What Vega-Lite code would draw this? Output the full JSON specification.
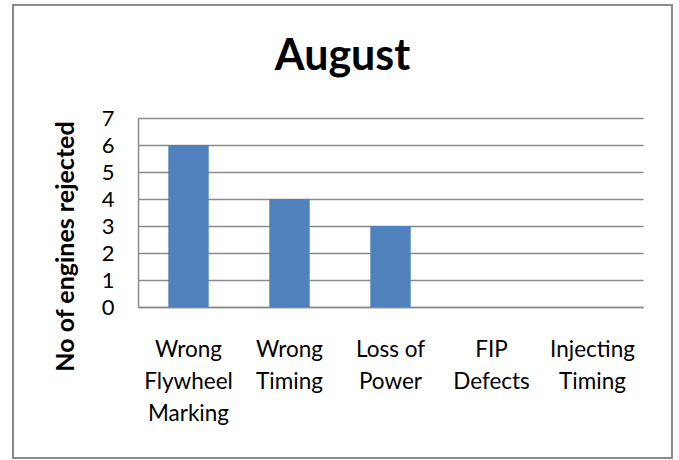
{
  "$schema": "https://vega.github.io/schema/vega-lite/v6.json",
  "autosize": "none",
  "width": 659,
  "height": 453,
  "padding": {"left": 13, "top": 5, "right": 7, "bottom": 2},
  "background": "white",
  "config": {
    "font": "Lato",
    "view": {"stroke": "#8a8a8a", "strokeWidth": 2},
    "axis": {"labelFont": "Lato", "titleFont": "Lato", "labelColor": "#000000", "titleColor": "#000000"}
  },
  "title": {
    "text": "August",
    "font": "Lato",
    "fontSize": 43,
    "fontWeight": "bold",
    "color": "#000000",
    "anchor": "middle",
    "baseline": "alphabetic",
    "offset": 0,
    "dy": 108
  },
  "data": {
    "values": [
      {"reason": "Wrong Flywheel Marking", "count": 6},
      {"reason": "Wrong Timing", "count": 4},
      {"reason": "Loss of Power", "count": 3},
      {"reason": "FIP Defects", "count": 0},
      {"reason": "Injecting Timing", "count": 0}
    ]
  },
  "mark": {"type": "bar", "color": "#4F81BD"},
  "encoding": {
    "x": {
      "field": "reason",
      "type": "nominal",
      "sort": null,
      "scale": {"range": [125, 630], "paddingInner": 0.6, "paddingOuter": 0.3},
      "axis": {
        "title": null,
        "offset": -151,
        "ticks": false,
        "tickSize": 0,
        "domainColor": "#8a8a8a",
        "domainWidth": 1.5,
        "labelAngle": 0,
        "labelFontSize": 22.5,
        "labelLineHeight": 32,
        "labelPadding": 31,
        "labelLimit": 0,
        "labelExpr": "datum.value == 'Wrong Flywheel Marking' ? ['Wrong','Flywheel','Marking'] : datum.value == 'Wrong Timing' ? ['Wrong','Timing'] : datum.value == 'Loss of Power' ? ['Loss of','Power'] : datum.value == 'FIP Defects' ? ['FIP','Defects'] : ['Injecting','Timing']"
      }
    },
    "y": {
      "field": "count",
      "type": "quantitative",
      "scale": {"domain": [0, 7], "range": [302, 113], "nice": false},
      "axis": {
        "title": "No of engines rejected",
        "titleFontSize": 25,
        "titleFontWeight": "bold",
        "titleX": -73,
        "titleY": 241,
        "titleAngle": -90,
        "titleAlign": "center",
        "titleBaseline": "middle",
        "offset": -125,
        "values": [0, 1, 2, 3, 4, 5, 6, 7],
        "ticks": false,
        "tickSize": 0,
        "labelFontSize": 22,
        "labelPadding": 24,
        "domainColor": "#8a8a8a",
        "domainWidth": 1.5,
        "grid": true,
        "gridColor": "#8a8a8a",
        "gridWidth": 1.5
      }
    }
  }
}
